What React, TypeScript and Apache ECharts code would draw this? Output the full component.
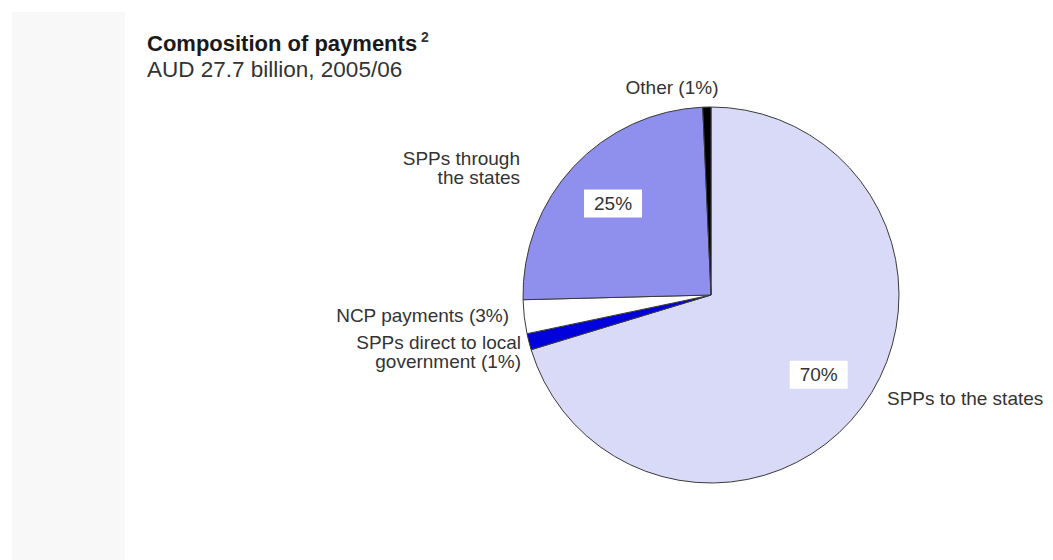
import React, { useEffect, useRef } from "react";
import * as echarts from "echarts";

const categories = [
  "SPPs to the states",
  "SPPs direct to local government",
  "NCP payments",
  "SPPs through the states",
  "Other",
];
const shares = [70.3, 1.4, 2.9, 24.7, 0.7];
const shownPercent = ["70%", "1%", "3%", "25%", "1%"];
const outerLabels = [
  "SPPs to the states",
  "SPPs direct to local\ngovernment (1%)",
  "NCP payments (3%)",
  "SPPs through\nthe states",
  "Other (1%)",
];
const innerLabelShown = [true, false, false, true, false];

const sliceColors = ["#d9d9f8", "#0000dc", "#ffffff", "#8f8fee", "#000000"];
const outerLabelAnchors: [number, number, string][] = [
  [887, 398, "left"],
  [521, 352, "right"],
  [509, 315, "right"],
  [520, 168, "right"],
  [672, 87, "center"],
];

export default function App() {
  const ref = useRef<HTMLDivElement>(null);
  useEffect(() => {
    if (!ref.current) return;
    const chart = echarts.init(ref.current, null, { renderer: "svg" });
    const font = "Liberation Sans, Arial, Helvetica, sans-serif";
    chart.setOption({
      animation: false,
      backgroundColor: "#ffffff",
      textStyle: { fontFamily: font },
      title: {
        left: 147,
        top: 30,
        padding: 0,
        text: "{a|Composition of payments}{s| 2}",
        subtext: "AUD 27.7 billion, 2005/06",
        itemGap: 3,
        textStyle: {
          rich: {
            a: { fontSize: 22, fontWeight: "bold", color: "#1a1a1a", fontFamily: font, lineHeight: 26 },
            s: { fontSize: 14, color: "#333", fontFamily: font, verticalAlign: "top", lineHeight: 26 },
          },
        },
        subtextStyle: { fontSize: 22.5, color: "#333", fontFamily: font, lineHeight: 24 },
      },
      graphic: [
        {
          type: "rect",
          z: -10,
          shape: { x: 12, y: 12, width: 113, height: 548 },
          style: { fill: "#f8f8f8" },
          silent: true,
        },
      ],
      series: [
        {
          type: "pie",
          center: [711, 295],
          radius: [0, 188],
          startAngle: 90,
          clockwise: true,
          avoidLabelOverlap: false,
          silent: true,
          itemStyle: { borderColor: "#3a3a3a", borderWidth: 1 },
          labelLine: { show: false },
          label: {
            show: true,
            position: "outside",
            color: "#333",
            fontSize: 19,
            lineHeight: 19,
            fontFamily: font,
            formatter: (p: any) => outerLabels[p.dataIndex],
          },
          labelLayout: (p: any) => {
            const a = outerLabelAnchors[p.dataIndex];
            return { x: a[0], y: a[1], align: a[2], verticalAlign: "middle" };
          },
          data: categories.map((c, i) => ({
            name: c,
            value: shares[i],
            itemStyle: { color: sliceColors[i] },
          })),
        },
        {
          type: "pie",
          center: [711, 295],
          radius: [0, 262],
          startAngle: 90,
          clockwise: true,
          avoidLabelOverlap: false,
          silent: true,
          z: 5,
          itemStyle: { color: "rgba(0,0,0,0)", borderWidth: 0 },
          labelLine: { show: false },
          data: categories.map((c, i) => ({
            name: c,
            value: shares[i],
            label: {
              show: innerLabelShown[i],
              position: "inside",
              formatter: shownPercent[i],
              backgroundColor: "#ffffff",
              padding: [5, 10, 4, 10],
              color: "#333",
              fontSize: 19,
              fontFamily: font,
            },
          })),
        },
      ],
    });
    return () => chart.dispose();
  }, []);
  return (
    <div
      ref={ref}
      style={{ position: "fixed", left: 0, top: 0, width: 1053, height: 560 }}
    />
  );
}
